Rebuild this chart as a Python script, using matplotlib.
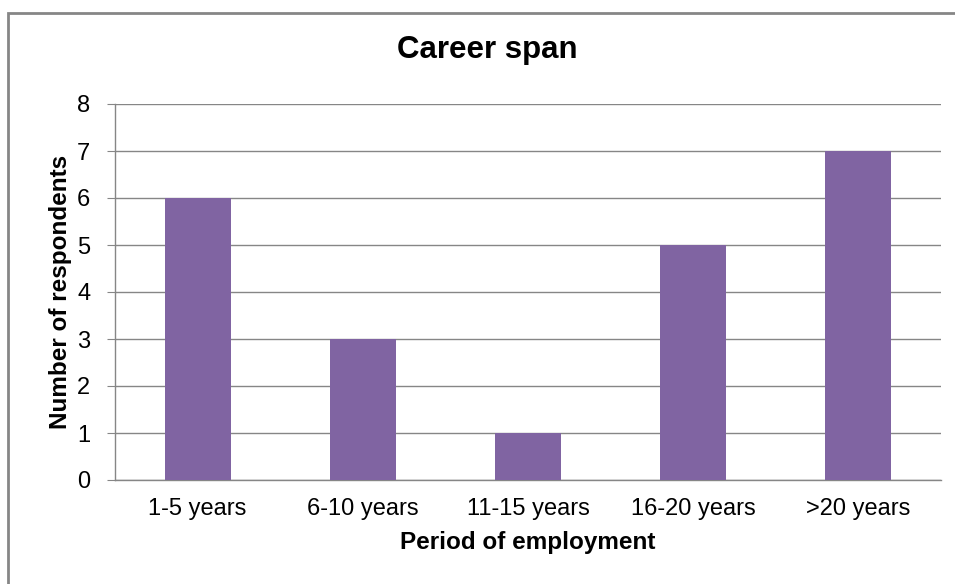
import matplotlib
matplotlib.use("Agg")
from matplotlib import pyplot as plt
from matplotlib.patches import Rectangle

categories = ["1-5 years", "6-10 years", "11-15 years", "16-20 years", ">20 years"]
respondents = [6, 3, 1, 5, 7]

plt.rcParams['font.family'] = ['Liberation Sans', 'DejaVu Sans']

fig = plt.figure(figsize=(9.55, 5.84), dpi=100)

# outer chart frame (runs off the right / bottom edge like the original)
fig.patches.append(Rectangle((8 / 955, -0.1), 1.2, 1 - 13 / 584 + 0.1,
                             transform=fig.transFigure, fill=False,
                             edgecolor='#868686', linewidth=2))

ax = fig.add_axes([115 / 955, 1 - 480 / 584, (941 - 115) / 955, (480 - 104) / 584])
x = range(len(categories))
ax.bar(x, respondents, width=0.4, color='#8064A2', zorder=3)

ax.set_xlim(-0.5, len(categories) - 0.5)
ax.set_ylim(0, 8)
ax.set_yticks(range(0, 9))
ax.set_xticks(list(x))
ax.set_xticklabels(categories)
ax.grid(axis='y', color='#868686', linewidth=1, zorder=0)

for s in ['top', 'right']:
    ax.spines[s].set_visible(False)
for s in ['left', 'bottom']:
    ax.spines[s].set_color('#868686')
    ax.spines[s].set_linewidth(1)

ax.tick_params(axis='y', length=5.8, color='#868686', labelsize=17, pad=12)
ax.tick_params(axis='x', length=0, labelsize=17, pad=13)

fig.text(487 / 955, 1 - 50 / 584, 'Career span', fontsize=22.5, fontweight='bold',
         ha='center', va='center')
ax.set_xlabel('Period of employment', fontsize=17.5, fontweight='bold', labelpad=8)
ax.set_ylabel('Number of respondents', fontsize=17.5, fontweight='bold', labelpad=3.5)

plt.savefig('out.png', dpi=100)
